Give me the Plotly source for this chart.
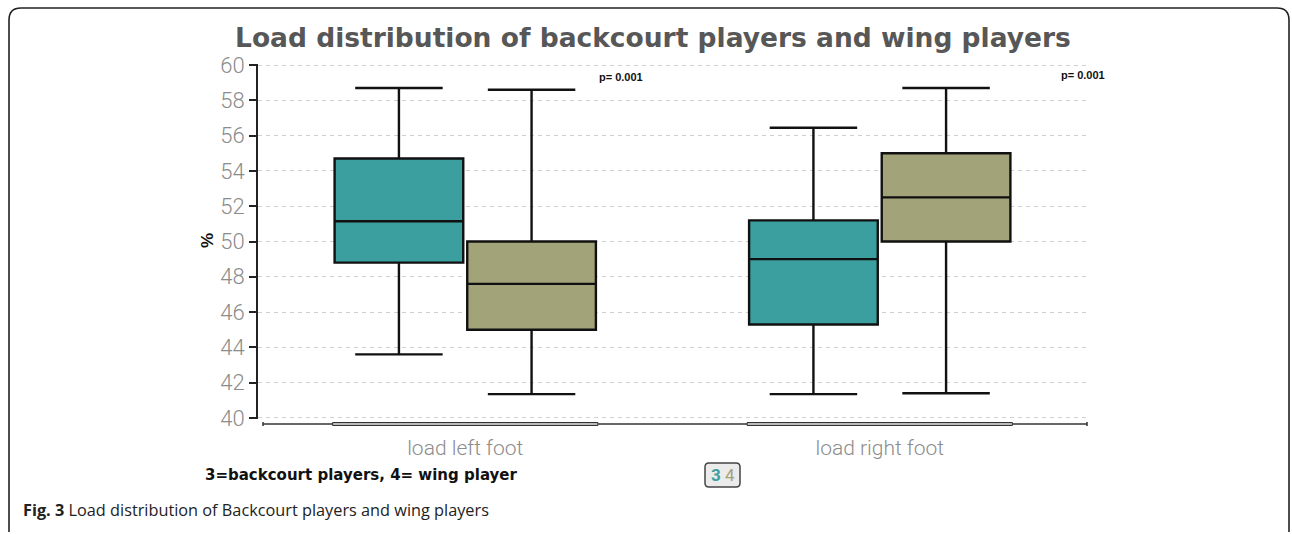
import plotly.graph_objects as go

# ---- data ----
categories = ["load left foot", "load right foot"]
group_names = ["3", "4"]
colors = {"3": "#3C9F9F", "4": "#A3A37A"}

q1 = {"3": [48.8, 45.3], "4": [45.0, 50.0]}
median = {"3": [51.15, 49.0], "4": [47.6, 52.5]}
q3 = {"3": [54.7, 51.2], "4": [50.0, 55.0]}
lowerfence = {"3": [43.6, 41.35], "4": [41.35, 41.4]}
upperfence = {"3": [58.7, 56.45], "4": [58.6, 58.7]}

p_labels = ["p= 0.001", "p= 0.001"]
y_ticks = list(range(40, 61, 2))

# ---- layout geometry (pixels) ----
W, H = 1292, 534
L, R, T, B = 258, 1087, 64, 419
BOXGAP = 0.36
THIN = "Roboto, Liberation Sans, sans-serif"


def xp(px):
    return (px - L) / (R - L)


def yp(py):
    return (B - py) / (B - T)


fig = go.Figure()
for g in group_names:
    fig.add_trace(go.Box(
        x=categories,
        q1=q1[g], median=median[g], q3=q3[g],
        lowerfence=lowerfence[g], upperfence=upperfence[g],
        name=g,
        fillcolor=colors[g],
        line=dict(color="#111111", width=2.4),
        whiskerwidth=0.68,
        boxpoints=False,
        hoverinfo="skip",
    ))

fig.update_layout(
    width=W, height=H,
    margin=dict(l=L, r=W - R, t=T, b=H - B),
    paper_bgcolor="white", plot_bgcolor="white",
    boxmode="group", boxgap=BOXGAP, boxgroupgap=0.03,
    showlegend=False,
    font=dict(family="Liberation Sans", color="#222"),
)

fig.update_yaxes(
    range=[39.94, 60.06], tickvals=y_ticks,
    showline=True, linecolor="#222", linewidth=2,
    ticks="outside", ticklen=7, tickwidth=2, tickcolor="#222",
    tickfont=dict(family=THIN, size=22, color="#8c8c8c", weight=300),
    showgrid=True, gridcolor="#cfcfcf", griddash="4px,4px", gridwidth=1,
    zeroline=False, fixedrange=True,
)
fig.update_xaxes(
    showline=False, showgrid=False, zeroline=False, ticks="",
    tickfont=dict(family=THIN, size=21, color="#8c8c8c", weight=300),
    ticklabelstandoff=14,
    range=[-0.5, 1.5],
)

shapes = []
# x axis line below the plot
shapes.append(dict(type="line", xref="paper", yref="paper",
                   x0=xp(263), x1=xp(1087), y0=yp(424), y1=yp(424),
                   line=dict(color="#333", width=1.5)))
for xx in (263, 1087):
    shapes.append(dict(type="line", xref="paper", yref="paper",
                       x0=xp(xx), x1=xp(xx), y0=yp(422), y1=yp(426),
                       line=dict(color="#333", width=1.5)))
# category bars
half = (1 - BOXGAP) / 2
for i, _ in enumerate(categories):
    shapes.append(dict(type="rect", xref="x", yref="paper",
                       x0=i - half, x1=i + half, y0=yp(425.5), y1=yp(422.5),
                       fillcolor="#bbbbbb", line=dict(color="#333", width=1)))

# outer rounded frame
fx0, fx1, fy0, fy1 = 9, 1289, 8, 532
r = 12
path = (f"M {xp(fx0)},{yp(fy1)} L {xp(fx0)},{yp(fy0 + r)} "
        f"Q {xp(fx0)},{yp(fy0)} {xp(fx0 + r)},{yp(fy0)} "
        f"L {xp(fx1 - r)},{yp(fy0)} Q {xp(fx1)},{yp(fy0)} {xp(fx1)},{yp(fy0 + r)} "
        f"L {xp(fx1)},{yp(fy1)}")
shapes.append(dict(type="path", xref="paper", yref="paper", path=path,
                   line=dict(color="#222", width=1.6)))
# rounded box around the "3 4" key
kx0, kx1, ky0, ky1, kr = 705, 740, 463, 487, 4
kpath = (f"M {xp(kx0 + kr)},{yp(ky0)} L {xp(kx1 - kr)},{yp(ky0)} "
         f"Q {xp(kx1)},{yp(ky0)} {xp(kx1)},{yp(ky0 + kr)} L {xp(kx1)},{yp(ky1 - kr)} "
         f"Q {xp(kx1)},{yp(ky1)} {xp(kx1 - kr)},{yp(ky1)} L {xp(kx0 + kr)},{yp(ky1)} "
         f"Q {xp(kx0)},{yp(ky1)} {xp(kx0)},{yp(ky1 - kr)} L {xp(kx0)},{yp(ky0 + kr)} "
         f"Q {xp(kx0)},{yp(ky0)} {xp(kx0 + kr)},{yp(ky0)} Z")
shapes.append(dict(type="path", xref="paper", yref="paper", path=kpath,
                   fillcolor="#ebebeb", line=dict(color="#444", width=1.5)))
fig.update_layout(shapes=shapes)

ann = []
ann.append(dict(text="<b>Load distribution of backcourt players and wing players</b>",
                x=xp(653), y=yp(37), xref="paper", yref="paper",
                xanchor="center", yanchor="middle", showarrow=False,
                font=dict(family="DejaVu Sans", size=26.5, color="#575757")))
ann.append(dict(text="<b>%</b>", x=xp(207), y=yp(241), xref="paper", yref="paper",
                xanchor="center", yanchor="middle", showarrow=False, textangle=-90,
                font=dict(family="Liberation Sans", size=17, color="#111")))
for txt, px_, py_ in zip(p_labels, (621, 1083), (77, 75)):
    ann.append(dict(text=f"<b>{txt}</b>", x=xp(px_), y=yp(py_), xref="paper", yref="paper",
                    xanchor="center", yanchor="middle", showarrow=False,
                    font=dict(family="Liberation Sans", size=11, color="#111")))
ann.append(dict(text="<b>3=backcourt players, 4= wing player</b>",
                x=xp(203), y=yp(475), xref="paper", yref="paper",
                xanchor="left", yanchor="middle", showarrow=False,
                font=dict(family="DejaVu Sans", size=15, color="#111")))
ann.append(dict(text=f"<b><span style='color:{colors['3']}'>3</span></b>"
                     f"<span style='color:{colors['4']}'> 4</span>",
                x=xp(722.5), y=yp(475), xref="paper", yref="paper",
                xanchor="center", yanchor="middle", showarrow=False,
                font=dict(family=THIN, size=17)))
ann.append(dict(text="<b>Fig. 3</b> Load distribution of Backcourt players and wing players",
                x=xp(21), y=yp(510), xref="paper", yref="paper",
                xanchor="left", yanchor="middle", showarrow=False,
                font=dict(family="Open Sans", size=16.3, color="#222")))
fig.update_layout(annotations=ann)

fig.write_html("out.html")
